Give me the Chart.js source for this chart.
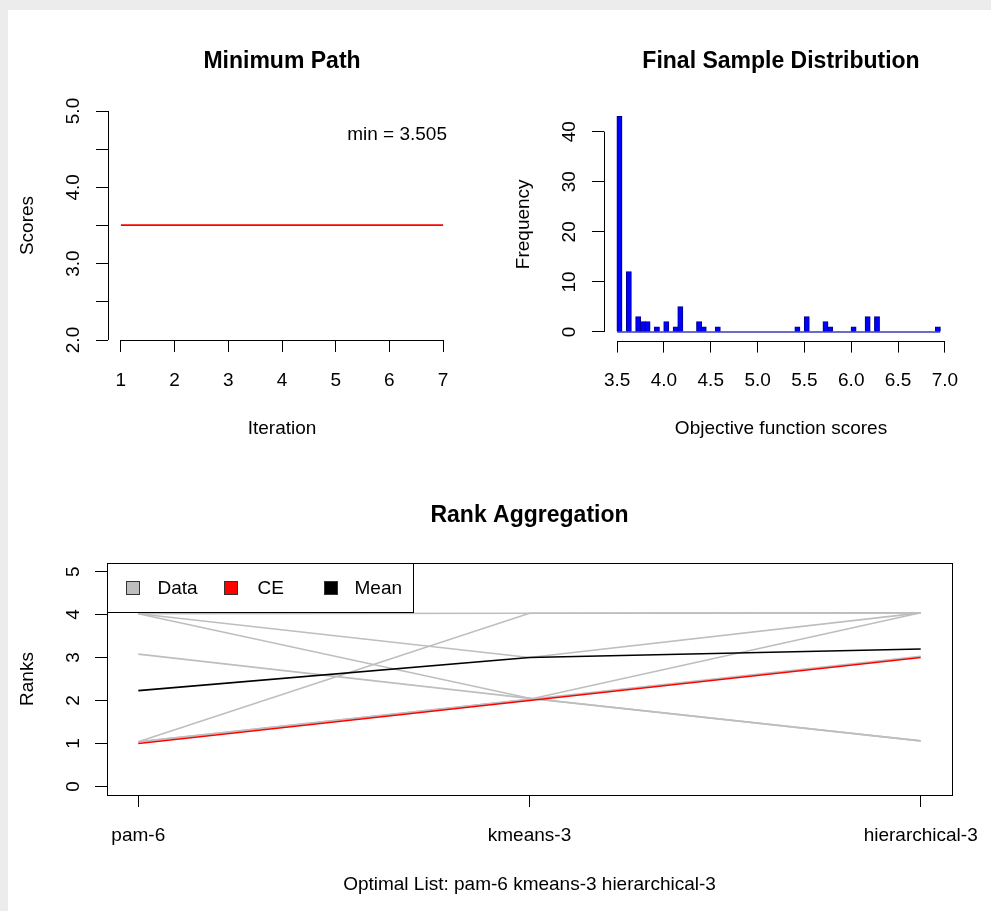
<!DOCTYPE html>
<html>
<head>
<meta charset="utf-8">
<script src="https://cdn.jsdelivr.net/npm/chart.js@4.4.1/dist/chart.umd.min.js"></script>
<style>
  html, body { margin: 0; padding: 0; background: #ececec; }
  #page { position: relative; width: 991px; height: 911px; overflow: hidden; }
  #card { position: absolute; left: 8px; top: 10px; width: 990px; height: 901px; background: #fff; }
  canvas { position: absolute; }
</style>
</head>
<body>
<div id="page">
  <div id="card"></div>
  <canvas id="pathChart" width="496" height="455" style="left:0;top:0"></canvas>
  <canvas id="histChart" width="495" height="455" style="left:496px;top:0"></canvas>
  <canvas id="rankChart" width="991" height="456" style="left:0;top:455px"></canvas>
</div>
<script>
// minimum path
const iterations = [1, 2, 3, 4, 5, 6, 7];
const minScores = [3.505, 3.505, 3.505, 3.505, 3.505, 3.505, 3.505];
const scoreTicks = [2.0, 2.5, 3.0, 3.5, 4.0, 4.5, 5.0];

// final sample distribution, bins 0.05 wide (empty bins left out)
const binWidth = 0.05;
const binStarts = [3.50, 3.60, 3.70, 3.75, 3.80, 3.90, 4.00, 4.10, 4.15, 4.35,
                   4.40, 4.55, 5.40, 5.50, 5.70, 5.75, 6.00, 6.15, 6.25, 6.90];
const binCounts = [43, 12, 3, 2, 2, 1, 2, 1, 5, 2,
                   1, 1, 1, 3, 2, 1, 1, 3, 3, 1];
const objTicks = [3.5, 4.0, 4.5, 5.0, 5.5, 6.0, 6.5, 7.0];
const freqTicks = [0, 10, 20, 30, 40];

// rank aggregation
const methods = ['pam-6', 'kmeans-3', 'hierarchical-3'];
const dataRanks = [
  [4.02, 4.03, 4.04],
  [4.02, 3.00, 4.04],
  [4.02, 2.05, 1.06],
  [3.08, 2.05, 1.06],
  [1.04, 4.03, 4.04],
  [1.04, 2.03, 4.04],
  [1.04, 2.03, 3.03]
];
const ceRanks = [1, 2, 3];
const meanRanks = [2.23, 3.0, 3.2];
const rankTicks = [0, 1, 2, 3, 4, 5];

const FONT = '"Liberation Sans", Arial, sans-serif';
Chart.defaults.font.family = FONT;
Chart.defaults.font.size = 19;
Chart.defaults.color = '#000';

const fixWidth = w => s => { s.width = w; s.paddingTop = 0; s.paddingBottom = 0; };
const fixHeight = h => s => { s.height = h; s.paddingLeft = 0; s.paddingRight = 0; };
const useTicks = vals => s => { s.ticks = vals.map(v => ({ value: v })); };

function xAxis(min, max, vals, fmt, height, title) {
  return {
    type: 'linear', min: min, max: max, offset: false,
    afterBuildTicks: useTicks(vals), afterFit: fixHeight(height),
    border: { display: false },
    grid: { drawOnChartArea: false, tickLength: 12, color: '#000', offset: false },
    ticks: { autoSkip: false, maxRotation: 0, padding: 17, callback: fmt },
    title: { display: true, text: title, padding: { top: 0, bottom: 15 } }
  };
}
function yAxis(min, max, vals, fmt, width, pad, title) {
  return {
    min: min, max: max,
    afterBuildTicks: useTicks(vals), afterFit: fixWidth(width),
    border: { display: false },
    grid: { drawOnChartArea: false, tickLength: 12, color: '#000' },
    ticks: { autoSkip: false, minRotation: 90, maxRotation: 90, crossAlign: 'center', align: 'end', padding: pad, callback: fmt },
    title: { display: true, text: title, padding: { top: 16, bottom: 0 } }
  };
}

// R style: axis line only from first to last tick, bold main title, optional box
const rStyle = {
  id: 'rStyle',
  afterDraw(chart, args, opts) {
    const ctx = chart.ctx, a = chart.chartArea;
    const sx = chart.scales.x, sy = chart.scales.y;
    ctx.save();
    ctx.strokeStyle = '#000';
    ctx.lineWidth = 1;
    const bx = Math.round(a.bottom) + 0.5, lx = Math.round(a.left) + 0.5;
    ctx.beginPath();
    ctx.moveTo(sx.getPixelForValue(sx.ticks[0].value), bx);
    ctx.lineTo(sx.getPixelForValue(sx.ticks[sx.ticks.length - 1].value), bx);
    ctx.moveTo(lx, sy.getPixelForValue(sy.ticks[0].value));
    ctx.lineTo(lx, sy.getPixelForValue(sy.ticks[sy.ticks.length - 1].value));
    ctx.stroke();
    if (opts.box) {
      ctx.strokeRect(lx, Math.round(a.top) + 0.5, Math.round(a.right) - Math.round(a.left), Math.round(a.bottom) - Math.round(a.top));
    }
    ctx.fillStyle = '#000';
    ctx.font = 'bold 23px ' + FONT;
    ctx.textAlign = 'center';
    ctx.textBaseline = 'middle';
    ctx.fillText(opts.title, (a.left + a.right) / 2, opts.titleY);
    ctx.restore();
  }
};

const minLabel = {
  id: 'minLabel',
  afterDraw(chart) {
    const ctx = chart.ctx, a = chart.chartArea;
    ctx.save();
    ctx.fillStyle = '#000';
    ctx.font = '19px ' + FONT;
    ctx.textAlign = 'right';
    ctx.textBaseline = 'middle';
    ctx.fillText('min = ' + Math.min(...minScores), a.right - 9, a.top + 24);
    ctx.restore();
  }
};

const rankLegend = {
  id: 'rankLegend',
  afterDraw(chart) {
    const ctx = chart.ctx, a = chart.chartArea;
    const items = [
      { text: 'Data', color: '#bebebe', box: 26, label: 50 },
      { text: 'CE', color: '#ff0000', box: 124, label: 150 },
      { text: 'Mean', color: '#000000', box: 224, label: 247 }
    ];
    const left = Math.round(a.left) + 0.5, top = Math.round(a.top) + 0.5;
    ctx.save();
    ctx.fillStyle = '#fff';
    ctx.strokeStyle = '#000';
    ctx.lineWidth = 1;
    ctx.fillRect(left, top, 306, 49);
    ctx.strokeRect(left, top, 306, 49);
    ctx.font = '19px ' + FONT;
    ctx.textBaseline = 'middle';
    ctx.textAlign = 'left';
    const cy = top + 25;
    items.forEach(it => {
      ctx.fillStyle = it.color;
      ctx.fillRect(left + it.box - 7, cy - 7, 13, 13);
      ctx.strokeStyle = '#333';
      ctx.strokeRect(left + it.box - 7, cy - 7, 13, 13);
      ctx.fillStyle = '#000';
      ctx.fillText(it.text, left + it.label, cy);
    });
    ctx.restore();
  }
};

const common = {
  responsive: false,
  animation: false,
  events: [],
  plugins: { legend: { display: false }, tooltip: { enabled: false } }
};

new Chart(document.getElementById('pathChart'), {
  type: 'line',
  data: {
    datasets: [{
      data: iterations.map((it, i) => ({ x: it, y: minScores[i] })),
      borderColor: '#ff0000', borderWidth: 1.6, pointRadius: 0
    }]
  },
  options: {
    ...common,
    layout: { padding: { left: 0, top: 111, right: 40, bottom: 0 } },
    scales: {
      x: xAxis(0.76, 7.24, iterations, v => String(v), 115, 'Iteration'),
      y: yAxis(2, 5, scoreTicks, v => (v % 1 === 0 ? v.toFixed(1) : ''), 108, 0, 'Scores')
    },
    plugins: { ...common.plugins, rStyle: { title: 'Minimum Path', titleY: 62 } }
  },
  plugins: [rStyle, minLabel]
});

new Chart(document.getElementById('histChart'), {
  type: 'bar',
  data: {
    datasets: [{
      type: 'bar',
      data: binStarts.map((b, i) => ({ x: b + binWidth / 2, y: binCounts[i] })),
      backgroundColor: '#0000ff', borderColor: '#00008b', borderWidth: 1,
      barPercentage: 1, categoryPercentage: 1, inflateAmount: 0.6
    }, {
      type: 'line',
      data: [{ x: binStarts[0], y: 0 }, { x: binStarts[binStarts.length - 1] + binWidth, y: 0 }],
      borderColor: '#3a3ab8', borderWidth: 1.4, pointRadius: 0
    }]
  },
  options: {
    ...common,
    layout: { padding: { left: 0, top: 108, right: 33, bottom: 0 } },
    scales: {
      x: xAxis(3.36, 7.14, objTicks, v => v.toFixed(1), 114.4, 'Objective function scores'),
      y: yAxis(-1.72, 44.72, freqTicks, v => String(v), 108, 2, 'Frequency')
    },
    plugins: { ...common.plugins, rStyle: { title: 'Final Sample Distribution', titleY: 62 } }
  },
  plugins: [rStyle]
});

const rankPoints = arr => arr.map((v, i) => ({ x: i + 1, y: v }));
new Chart(document.getElementById('rankChart'), {
  type: 'line',
  data: {
    datasets: [
      { label: 'Mean', data: rankPoints(meanRanks), borderColor: '#000000', borderWidth: 1.6, pointRadius: 0 },
      { label: 'CE', data: rankPoints(ceRanks), borderColor: '#ff0000', borderWidth: 1.6, pointRadius: 0 }
    ].concat(dataRanks.map(r => ({
      label: 'Data', data: rankPoints(r), borderColor: '#bebebe', borderWidth: 1.6, pointRadius: 0
    })))
  },
  options: {
    ...common,
    layout: { padding: { left: 0, top: 108, right: 39, bottom: 0 } },
    scales: {
      x: xAxis(0.92, 3.08, [1, 2, 3], v => methods[v - 1], 116, 'Optimal List: ' + methods.join(' ')),
      y: yAxis(-0.2, 5.2, rankTicks, v => String(v), 107, 6, 'Ranks')
    },
    plugins: { ...common.plugins, rStyle: { title: 'Rank Aggregation', titleY: 61, box: true } }
  },
  plugins: [rStyle, rankLegend]
});
</script>
</body>
</html>
